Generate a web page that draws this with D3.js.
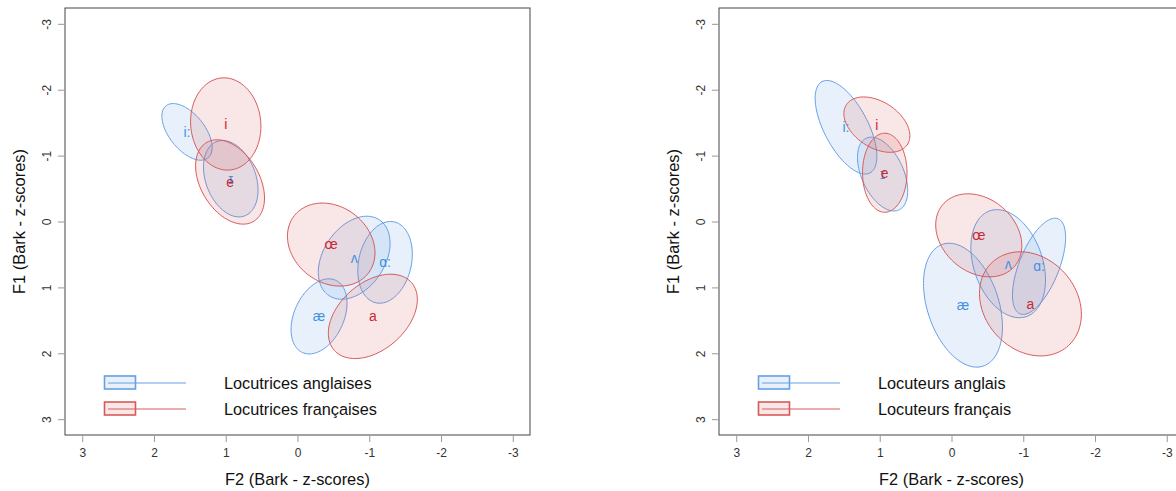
<!DOCTYPE html>
<html>
<head>
<meta charset="utf-8">
<script src="https://cdn.jsdelivr.net/npm/d3@7"></script>
<style>
  body { margin: 0; background: #fff; }
  svg { font-family: "Liberation Sans", Arial, sans-serif; }
</style>
</head>
<body>
<svg id="chart" width="1176" height="491"></svg>
<script>
// vowel ellipses: mean F2, mean F1, spread on F2, spread on F1, correlation
// left panel - female speakers
var femEnVowels = ['i:', 'ɪ', 'æ', 'ʌ', 'ɑ:'];
var femEnF2     = [1.54, 0.93, -0.30, -0.79, -1.22];
var femEnF1     = [-1.36, -0.65, 1.44, 0.55, 0.62];
var femEnSdF2   = [0.35, 0.38, 0.39, 0.50, 0.38];
var femEnSdF1   = [0.43, 0.58, 0.57, 0.63, 0.62];
var femEnR      = [-0.55, -0.3, 0.35, 0.35, 0.2];

var femFrVowels = ['i', 'e', 'œ', 'a'];
var femFrF2     = [1.00, 0.94, -0.47, -1.05];
var femFrF1     = [-1.48, -0.60, 0.35, 1.44];
var femFrSdF2   = [0.49, 0.48, 0.61, 0.62];
var femFrSdF1   = [0.70, 0.64, 0.63, 0.64];
var femFrR      = [-0.05, -0.38, -0.2, 0.4];

// right panel - male speakers
var malEnVowels = ['i:', 'ɪ', 'æ', 'ʌ', 'ɑ:'];
var malEnF2     = [1.47, 0.96, -0.16, -0.79, -1.22];
var malEnF1     = [-1.43, -0.72, 1.27, 0.64, 0.68];
var malEnSdF2   = [0.43, 0.35, 0.55, 0.52, 0.37];
var malEnSdF1   = [0.71, 0.56, 0.94, 0.82, 0.73];
var malEnR      = [-0.62, -0.45, -0.35, -0.3, 0.6];

var malFrVowels = ['i', 'e', 'œ', 'a'];
var malFrF2     = [1.04, 0.93, -0.38, -1.10];
var malFrF1     = [-1.47, -0.74, 0.21, 1.25];
var malFrSdF2   = [0.46, 0.31, 0.60, 0.71];
var malFrSdF1   = [0.42, 0.60, 0.63, 0.79];
var malFrR      = [-0.4, 0, -0.25, -0.2];

var ticks = [3, 2, 1, 0, -1, -2, -3];
var legendFem = ['Locutrices anglaises', 'Locutrices françaises'];
var legendMal = ['Locuteurs anglais', 'Locuteurs français'];

var blue = {stroke: 'rgb(100,160,230)', fill: 'rgba(100,160,230,0.15)', text: 'rgb(70,145,225)'};
var red  = {stroke: 'rgb(215,90,90)',  fill: 'rgba(215,90,90,0.15)',  text: 'rgb(205,40,50)'};

var margin = {top: 8, left: 65},
    width = 465,
    height = 427;

var svg = d3.select('#chart');

function group(vowels, f2, f1, sd2, sd1, r) {
    return vowels.map(function(v, i) {
        return {label: v, f2: f2[i], f1: f1[i], sd2: sd2[i], sd1: sd1[i], r: r[i]};
    });
}

function ellipsePoints(d) {
    var pts = [], delta = Math.acos(d.r);
    for (var k = 0; k < 120; k++) {
        var t = k / 120 * 2 * Math.PI;
        pts.push([d.f2 + d.sd2 * Math.cos(t), d.f1 + d.sd1 * Math.cos(t - delta)]);
    }
    return pts;
}

function drawPanel(left, en, fr, legend) {
    var x = d3.scaleLinear().domain([3.24, -3.24]).range([0, width]);
    var y = d3.scaleLinear().domain([-3.24, 3.24]).range([0, height]);

    var g = svg.append('g')
        .attr('transform', 'translate(' + left + ',' + margin.top + ')');

    var line = d3.line()
        .x(function(d) { return x(d[0]); })
        .y(function(d) { return y(d[1]); })
        .curve(d3.curveLinearClosed);

    // ellipses
    [[en, blue], [fr, red]].forEach(function(s) {
        g.selectAll(null).data(s[0]).enter().append('path')
            .attr('d', function(d) { return line(ellipsePoints(d)); })
            .attr('fill', s[1].fill)
            .attr('stroke', s[1].stroke)
            .attr('stroke-width', 1);
    });

    // vowel labels
    [[en, blue], [fr, red]].forEach(function(s) {
        g.selectAll(null).data(s[0]).enter().append('text')
            .attr('x', function(d) { return x(d.f2); })
            .attr('y', function(d) { return y(d.f1); })
            .attr('dy', '0.35em')
            .attr('text-anchor', 'middle')
            .style('font-size', '14px')
            .style('fill', s[1].text)
            .text(function(d) { return d.label; });
    });

    // box
    g.append('rect')
        .attr('width', width)
        .attr('height', height)
        .attr('fill', 'none')
        .attr('stroke', '#444')
        .attr('stroke-width', 1);

    // x axis
    var xa = g.append('g')
        .attr('transform', 'translate(0,' + height + ')')
        .call(d3.axisBottom(x).tickValues(ticks).tickSize(7).tickPadding(6)
            .tickFormat(function(d) { return String(d); }));
    xa.select('.domain').remove();
    xa.selectAll('line').attr('stroke', '#999');
    xa.selectAll('text').style('font-size', '12px').style('fill', '#333');

    // y axis
    var ya = g.append('g')
        .call(d3.axisLeft(y).tickValues(ticks).tickSize(7)
            .tickFormat(function(d) { return String(d); }));
    ya.select('.domain').remove();
    ya.selectAll('line').attr('stroke', '#999');
    ya.selectAll('text')
        .attr('x', null).attr('dy', null)
        .attr('text-anchor', 'middle')
        .attr('transform', 'translate(-14,0) rotate(-90)')
        .style('font-size', '12px').style('fill', '#333');

    g.append('text')
        .attr('x', width / 2)
        .attr('y', height + 50)
        .attr('text-anchor', 'middle')
        .style('font-size', '16.4px')
        .style('fill', '#111')
        .text('F2 (Bark - z-scores)');

    g.append('text')
        .attr('transform', 'translate(' + (-40) + ',' + (height / 2) + ') rotate(-90)')
        .attr('text-anchor', 'middle')
        .style('font-size', '16.4px')
        .style('fill', '#111')
        .text('F1 (Bark - z-scores)');

    // legend
    [blue, red].forEach(function(c, i) {
        var ly = 375 + i * 26;
        g.append('rect')
            .attr('x', 39.5).attr('y', ly - 7)
            .attr('width', 31).attr('height', 13)
            .attr('fill', c.fill)
            .attr('stroke', c.stroke)
            .attr('stroke-width', 1.6);
        g.append('line')
            .attr('x1', 43).attr('x2', 121)
            .attr('y1', ly).attr('y2', ly)
            .attr('stroke', c.stroke);
        g.append('text')
            .attr('x', 159)
            .attr('y', ly)
            .attr('dy', '0.35em')
            .style('font-size', '16.3px')
            .style('fill', '#111')
            .text(legend[i]);
    });
}

drawPanel(65,
    group(femEnVowels, femEnF2, femEnF1, femEnSdF2, femEnSdF1, femEnR),
    group(femFrVowels, femFrF2, femFrF1, femFrSdF2, femFrSdF1, femFrR),
    legendFem);

drawPanel(719,
    group(malEnVowels, malEnF2, malEnF1, malEnSdF2, malEnSdF1, malEnR),
    group(malFrVowels, malFrF2, malFrF1, malFrSdF2, malFrSdF1, malFrR),
    legendMal);
</script>
</body>
</html>
